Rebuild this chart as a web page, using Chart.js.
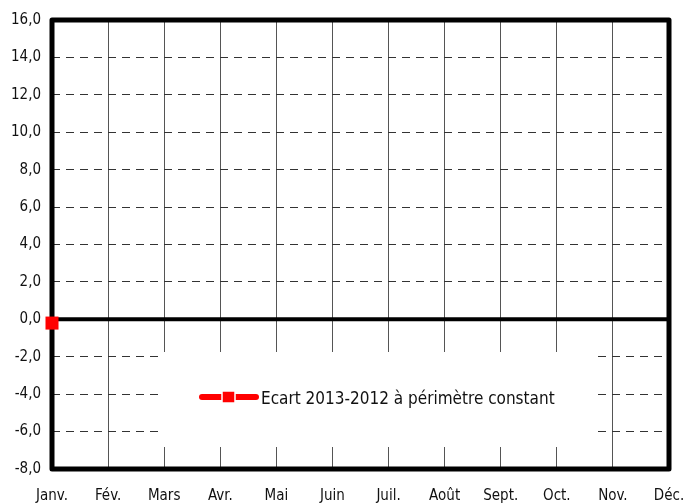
<!DOCTYPE html>
<html>
<head>
<meta charset="utf-8">
<script src="https://cdn.jsdelivr.net/npm/chart.js@4/dist/chart.umd.min.js"></script>
<style>
  html, body { margin: 0; padding: 0; background: #fff; }
  #wrap { width: 683px; height: 504px; }
</style>
</head>
<body>
<div id="wrap"><canvas id="chart"></canvas></div>
<script>
var months = ["Janv.", "Fév.", "Mars", "Avr.", "Mai", "Juin", "Juil.", "Août", "Sept.", "Oct.", "Nov.", "Déc."];
var ecart = [-0.2, null, null, null, null, null, null, null, null, null, null, null];
var seriesName = "Ecart 2013-2012 à périmètre constant";
var yMin = -8, yMax = 16, yStep = 2;

var FONT = "'DejaVu Sans Condensed', 'Liberation Sans Narrow', Arial, sans-serif";

// white legend box in the lower part of the plot, plus zero line and frame
var framePlugin = {
    id: 'frame',
    beforeDatasetsDraw: function (chart) {
        var c = chart.ctx, a = chart.chartArea;
        var y = chart.scales.y;
        c.save();
        // legend box
        c.fillStyle = '#fff';
        c.fillRect(161, 352, 434, 95);
        // legend sample
        c.strokeStyle = '#ff0000';
        c.lineWidth = 6;
        c.lineCap = 'round';
        c.beginPath();
        c.moveTo(202, 397);
        c.lineTo(256, 397);
        c.stroke();
        c.fillStyle = '#ff0000';
        c.fillRect(222, 391, 13, 12);
        c.strokeStyle = '#fff';
        c.lineWidth = 1.5;
        c.strokeRect(222, 391, 13, 12);
        c.fillStyle = '#111';
        c.font = "17px " + FONT;
        c.textBaseline = 'middle';
        c.fillText(seriesName, 261, 400);
        // zero line
        var y0 = y.getPixelForValue(0);
        c.strokeStyle = '#000';
        c.lineWidth = 4;
        c.lineCap = 'butt';
        c.beginPath();
        c.moveTo(a.left, y0);
        c.lineTo(a.right, y0);
        c.stroke();
        // frame
        c.lineWidth = 5;
        c.lineJoin = 'round';
        c.strokeRect(a.left, a.top, a.right - a.left, a.bottom - a.top);
        c.restore();
    }
};

new Chart(document.getElementById('chart'), {
    type: 'line',
    data: {
        labels: months,
        datasets: [{
            label: seriesName,
            data: ecart,
            borderColor: '#ff0000',
            backgroundColor: '#ff0000',
            borderWidth: 6,
            pointStyle: 'rect',
            pointRadius: 9.2,
            pointBorderWidth: 0,
            clip: false
        }]
    },
    options: {
        responsive: true,
        maintainAspectRatio: false,
        animation: false,
        layout: { padding: { top: 19, right: 0, left: 0, bottom: 0 } },
        plugins: {
            legend: { display: false },
            tooltip: { enabled: false }
        },
        scales: {
            x: {
                offset: false,
                grid: { color: '#555', lineWidth: 1, drawTicks: false },
                border: { display: false },
                ticks: { color: '#111', font: { family: FONT, size: 15 }, padding: 18, maxRotation: 0, autoSkip: false },
                afterFit: function (s) {
                    s.height = 35;
                    s.paddingRight = 14;
                    s.paddingLeft = 0;
                }
            },
            y: {
                min: yMin,
                max: yMax,
                grid: { color: '#333', lineWidth: 1, drawTicks: false },
                border: { display: false, dash: [8, 6] },
                ticks: {
                    stepSize: yStep,
                    color: '#111',
                    font: { family: FONT, size: 15 },
                    padding: 11,
                    callback: function (v) { return v.toFixed(1).replace('.', ','); }
                },
                afterFit: function (s) { s.width = 52; }
            }
        }
    },
    plugins: [framePlugin]
});
</script>
</body>
</html>
